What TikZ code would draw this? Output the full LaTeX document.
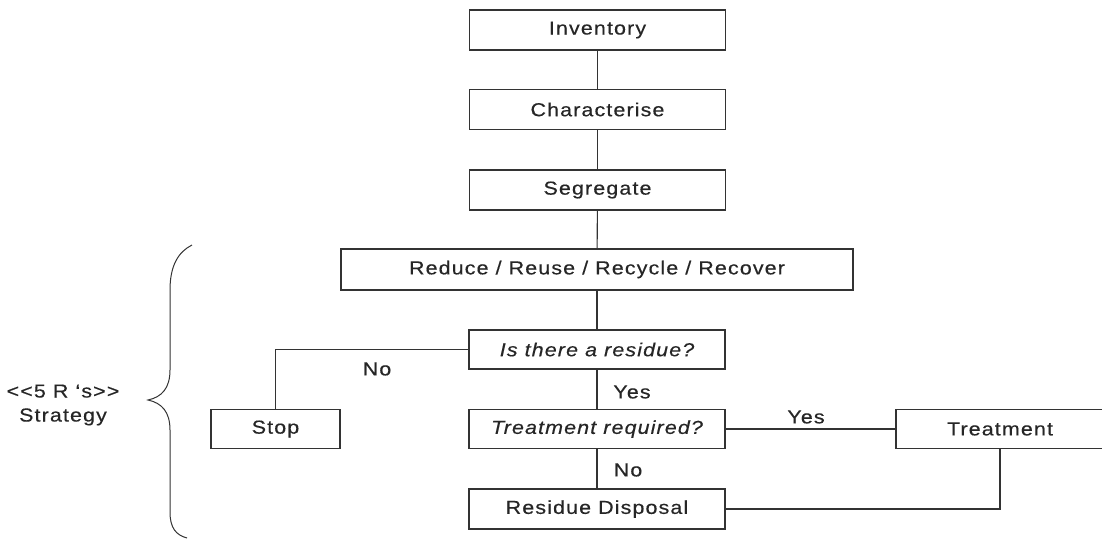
\documentclass[tikz,border=0pt]{standalone}
\usepackage{fontspec}
\setmainfont{Liberation Sans}[FakeStretch=1.14, LetterSpace=6, FakeBold=0.4]
\begin{document}
\begin{tikzpicture}[x=1pt, y=-1pt,
  every node/.style={font=\fontsize{18.8}{21}\selectfont, text=black!85},
  stepbox/.style={draw=black!80, line width=1.2pt, inner sep=0pt,
                  minimum height=40, minimum width=256},
  link/.style={draw=black!80, line width=1.1pt},
  lbl/.style={inner sep=0pt}]
  % page frame
  \useasboundingbox (0,0) rectangle (1102,542);
  \begin{scope}
  \clip (0,0) rectangle (1102,542);

  % main column
  \node[stepbox] (inv)  at (597.5,30)  {Inventory};
  \node[stepbox] (char) at (597.5,109.5) {Characterise};
  \node[stepbox] (seg)  at (597.5,190) {Segregate};
  \node[stepbox, minimum width=512, minimum height=41] (rrr) at (597,269.5)
       {Reduce / Reuse / Recycle / Recover};
  \node[stepbox, minimum height=39] (resq) at (597,349.5) {\itshape Is there a residue?};
  \node[stepbox, minimum height=39] (treq) at (597,429) {\itshape Treatment required?};
  \node[stepbox] (disp) at (597,509) {Residue Disposal};

  % side branches
  \node[stepbox, minimum width=129, minimum height=39] (stop) at (275.5,429) {Stop};
  \node[stepbox, minimum width=208, minimum height=39] (treat) at (1000,429) {};
  \node[lbl] (treattxt) at (1000,429) {Treatment};

  % connectors
  \draw[link] (inv) -- (char);
  \draw[link] (char) -- (seg);
  \draw[link] (seg) -- (rrr);
  \draw[link] (rrr) -- (resq);
  \draw[link] (resq) -- (treq);
  \draw[link] (treq) -- (disp);
  \draw[link] (resq.west) -| (stop.north);
  \draw[link] (treq.east) -- (treat.west);
  \draw[link] (treat.south) |- (disp.east);

  % branch labels
  \node[lbl] (no1)  at (377,369) {No};
  \node[lbl] (yes1) at (632,392) {Yes};
  \node[lbl] (no2)  at (628,470) {No};
  \node[lbl] (yes2) at (806,417) {Yes};

  % strategy brace and its caption
  \draw[link, line width=1pt]
    (192,245) .. controls (178,252) and (170,266) .. (170,290)
    -- (170,370) .. controls (170,388) and (162,397) .. (148,400)
    .. controls (162,403) and (170,412) .. (170,430)
    -- (170,512) .. controls (170,528) and (176,535) .. (187,538);
  \node[lbl, align=center] (strat) at (63,405)
    {{<}{<}5 R `s{>}{>}\\[3pt]Strategy};
  \end{scope}
\end{tikzpicture}
\end{document}
